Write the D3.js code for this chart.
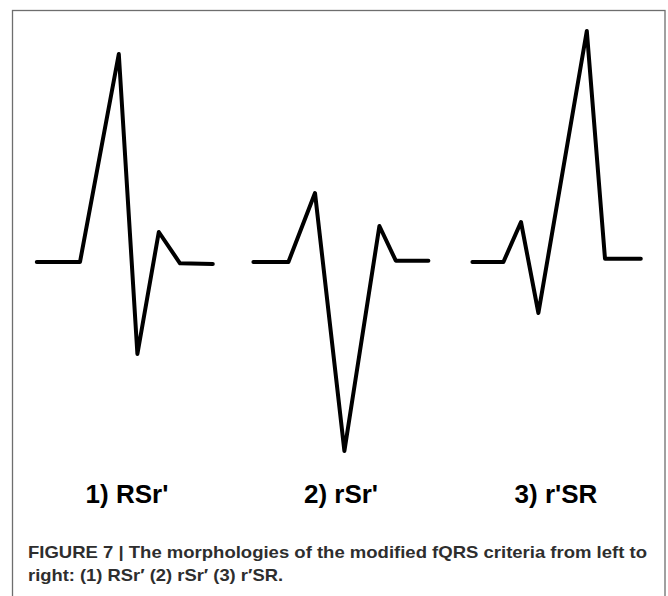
<!DOCTYPE html>
<html>
<head>
<meta charset="utf-8">
<script src="https://cdn.jsdelivr.net/npm/d3@7"></script>
<style>
  html, body { margin: 0; padding: 0; background: #fff; }
  svg { display: block; }
</style>
</head>
<body>
<svg id="chart" width="668" height="596"></svg>
<script>
// ---- Data (time units, amplitude units; baseline = 0) ----
const labels = ["1) RSr'", "2) rSr'", "3) r'SR"];
const wave1Time = [18.4, 40, 59.4, 68.7, 79.4, 90, 106.4];
const wave1Amp  = [0, 0, 2.08, -0.92, 0.30, -0.013, -0.02];
const wave2Time = [126.7, 144.2, 157.5, 172.2, 189.7, 197.9, 214.2];
const wave2Amp  = [0, 0, 0.69, -1.89, 0.36, 0.013, 0.013];
const wave3Time = [236.2, 251.7, 260.5, 269.2, 293.4, 302.5, 320.4];
const wave3Amp  = [0, 0, 0.40, -0.51, 2.31, 0.033, 0.033];
const labelTime = [63.5, 170.5, 278];
const captionLines = [
  "FIGURE 7 | The morphologies of the modified fQRS criteria from left to",
  "right: (1) RSr\u2032 (2) rSr\u2032 (3) r\u2032SR."
];

const waves = [
  wave1Time.map((t, i) => ({t, a: wave1Amp[i]})),
  wave2Time.map((t, i) => ({t, a: wave2Amp[i]})),
  wave3Time.map((t, i) => ({t, a: wave3Amp[i]}))
];

const svg = d3.select("#chart");

const x = d3.scaleLinear().domain([0, 320]).range([0, 640]);
const y = d3.scaleLinear().domain([-2, 2.5]).range([462, 12]);

// Frame
svg.append("rect")
  .attr("x", 12.5).attr("y", 10.5)
  .attr("width", 652.5).attr("height", 620)
  .attr("fill", "none")
  .attr("stroke", "#6e6e6e")
  .attr("stroke-width", 1.3);

const line = d3.line().x(d => x(d.t)).y(d => y(d.a));

svg.append("g").selectAll("path")
  .data(waves)
  .join("path")
  .attr("d", line)
  .attr("fill", "none")
  .attr("stroke", "#000")
  .attr("stroke-width", 4)
  .attr("stroke-linecap", "round")
  .attr("stroke-linejoin", "round");

svg.append("g").selectAll("text")
  .data(labels)
  .join("text")
  .attr("x", (d, i) => x(labelTime[i]))
  .attr("y", 503)
  .attr("text-anchor", "middle")
  .attr("font-family", "'Liberation Sans', Arial, sans-serif")
  .attr("font-weight", "bold")
  .attr("font-size", 26)
  .attr("fill", "#000")
  .text(d => d);

const capWidths = [619, 255];
svg.append("g").selectAll("text")
  .data(captionLines)
  .join("text")
  .attr("x", 28)
  .attr("y", (d, i) => 558 + i * 23)
  .attr("font-family", "'Liberation Sans', Arial, sans-serif")
  .attr("font-weight", "bold")
  .attr("font-size", 17)
  .attr("fill", "#2e2e2e")
  .attr("textLength", (d, i) => capWidths[i])
  .attr("lengthAdjust", "spacingAndGlyphs")
  .text(d => d);
</script>
</body>
</html>
